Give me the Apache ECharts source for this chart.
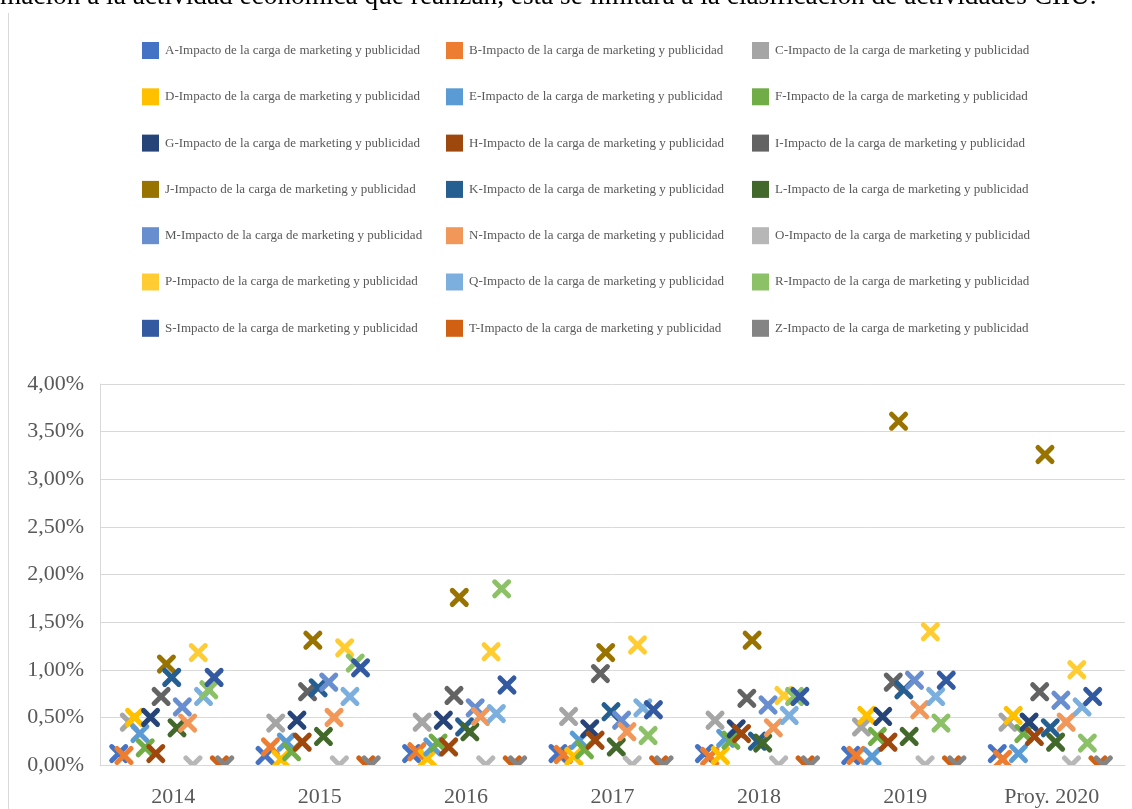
<!DOCTYPE html>
<html>
<head>
<meta charset="utf-8">
<script src="https://cdn.jsdelivr.net/npm/echarts@6/dist/echarts.min.js"></script>
<style>
  html, body { margin: 0; padding: 0; background: #ffffff; }
  #chart { width: 1132px; height: 809px; }
</style>
</head>
<body>
<div id="chart"></div>
<script>
// Categories (years) and y-axis ticks
const years = ['2014', '2015', '2016', '2017', '2018', '2019', 'Proy. 2020'];
const yTicks = { min: 0, max: 4, step: 0.5 };

// Impact of marketing & advertising load, in percent, per economic-activity letter
const sA = [0.12, 0.10, 0.12, 0.12, 0.12, 0.10, 0.12];
const sB = [0.10, 0.19, 0.14, 0.11, 0.09, 0.10, 0.06];
const sC = [0.45, 0.44, 0.45, 0.51, 0.47, 0.40, 0.45];
const sD = [0.50, 0.06, 0.07, 0.09, 0.10, 0.52, 0.52];
const sE = [0.33, 0.24, 0.19, 0.26, 0.28, 0.09, 0.12];
const sF = [0.18, 0.14, 0.23, 0.16, 0.26, 0.30, 0.33];
const sG = [0.50, 0.47, 0.47, 0.38, 0.38, 0.51, 0.45];
const sH = [0.12, 0.24, 0.19, 0.26, 0.33, 0.24, 0.30];
const sI = [0.72, 0.77, 0.73, 0.96, 0.70, 0.87, 0.77];
const sJ = [1.06, 1.31, 1.76, 1.18, 1.31, 3.61, 3.26];
const sK = [0.92, 0.81, 0.40, 0.56, 0.25, 0.79, 0.39];
const sL = [0.39, 0.30, 0.35, 0.19, 0.23, 0.30, 0.24];
const sM = [0.61, 0.87, 0.60, 0.47, 0.63, 0.89, 0.68];
const sN = [0.44, 0.50, 0.51, 0.35, 0.39, 0.58, 0.45];
const sO = [0.00, 0.00, 0.00, 0.00, 0.00, 0.00, 0.00];
const sP = [1.18, 1.23, 1.19, 1.26, 0.73, 1.40, 1.00];
const sQ = [0.72, 0.72, 0.54, 0.60, 0.52, 0.72, 0.61];
const sR = [0.79, 1.07, 1.85, 0.31, 0.72, 0.44, 0.23];
const sS = [0.92, 1.02, 0.84, 0.58, 0.72, 0.89, 0.72];
const sT = [0.00, 0.00, 0.00, 0.00, 0.00, 0.00, 0.00];
const sZ = [0.00, 0.00, 0.00, 0.00, 0.00, 0.00, 0.00];

const letters = ['A','B','C','D','E','F','G','H','I','J','K','L','M','N','O','P','Q','R','S','T','Z'];
const values = [sA,sB,sC,sD,sE,sF,sG,sH,sI,sJ,sK,sL,sM,sN,sO,sP,sQ,sR,sS,sT,sZ];
const colors = ['#4472C4','#ED7D31','#A5A5A5','#FFC000','#5B9BD5','#70AD47','#264478','#9E480E',
                '#636363','#997300','#255E91','#43682B','#698ED0','#F1975A','#B7B7B7','#FFCD33',
                '#7CAFDD','#8CC168','#335AA1','#D26012','#848484'];
const suffix = '-Impacto de la carga de marketing y publicidad';
const names = letters.map(l => l + suffix);

// Each letter gets its own slot inside a year's band
const SLOT = 0.0362;
const MID = (letters.length - 1) / 2;

function renderCross(params, api) {
  const p = api.coord([api.value(0), api.value(1)]);
  const band = api.size([1, 0])[0];
  const cx = p[0] + (params.seriesIndex - MID) * band * SLOT - 1.5;
  const cy = p[1];
  const h = 7;
  const color = api.visual('color');
  return {
    type: 'group',
    children: [
      { type: 'line', shape: { x1: cx - h, y1: cy - h, x2: cx + h, y2: cy + h },
        style: { stroke: color, lineWidth: 5, lineCap: 'round' } },
      { type: 'line', shape: { x1: cx - h, y1: cy + h, x2: cx + h, y2: cy - h },
        style: { stroke: color, lineWidth: 5, lineCap: 'round' } }
    ]
  };
}

const series = letters.map((l, i) => ({
  name: names[i],
  type: 'custom',
  clip: true,
  renderItem: renderCross,
  itemStyle: { color: colors[i] },
  encode: { x: 0, y: 1 },
  data: values[i].map((v, k) => [k, v])
}));

const legendText = {
  fontFamily: '"Liberation Serif", "Times New Roman", serif',
  fontSize: 13,
  color: '#595959',
  padding: [0, 0, 0, 1]
};
const colX = [137, 441, 747];
const legends = colX.map((x, c) => ({
  orient: 'vertical',
  left: x,
  top: 37,
  itemWidth: 17,
  itemHeight: 17,
  itemGap: 29.3,
  icon: 'rect',
  selectedMode: false,
  textStyle: legendText,
  data: names.filter((_, i) => i % 3 === c)
}));

const axisFont = {
  fontFamily: '"Liberation Serif", "Times New Roman", serif',
  fontSize: 22,
  color: '#595959'
};

const chart = echarts.init(document.getElementById('chart'), null, { renderer: 'canvas' });
chart.setOption({
  animation: false,
  backgroundColor: '#ffffff',
  legend: legends,
  grid: { left: 100, right: 7, top: 384, bottom: 44 },
  xAxis: {
    type: 'category',
    data: years,
    axisLine: { lineStyle: { color: '#d9d9d9', width: 1 } },
    axisTick: { show: false },
    axisLabel: Object.assign({ margin: 21 }, axisFont),
    splitLine: { show: false }
  },
  yAxis: {
    type: 'value',
    min: yTicks.min,
    max: yTicks.max,
    interval: yTicks.step,
    axisLine: { show: true, lineStyle: { color: '#d9d9d9', width: 1 } },
    axisTick: { show: false },
    splitLine: { lineStyle: { color: '#d9d9d9', width: 1 } },
    axisLabel: Object.assign({
      margin: 16,
      formatter: v => v.toFixed(2).replace('.', ',') + '%'
    }, axisFont)
  },
  graphic: [
    {
      type: 'text',
      left: 0,
      top: -17,
      silent: true,
      style: {
        text: 'mación a la actividad económica que realizan, ésta se limitará a la clasificación de actividades CIIU.',
        font: '27.3px "Liberation Serif", "Times New Roman", serif',
        fill: '#000000'
      }
    },
    {
      type: 'line',
      silent: true,
      shape: { x1: 8.5, y1: 13, x2: 8.5, y2: 809 },
      style: { stroke: '#d9d9d9', lineWidth: 1 }
    }
  ],
  series: series
});
</script>
</body>
</html>
